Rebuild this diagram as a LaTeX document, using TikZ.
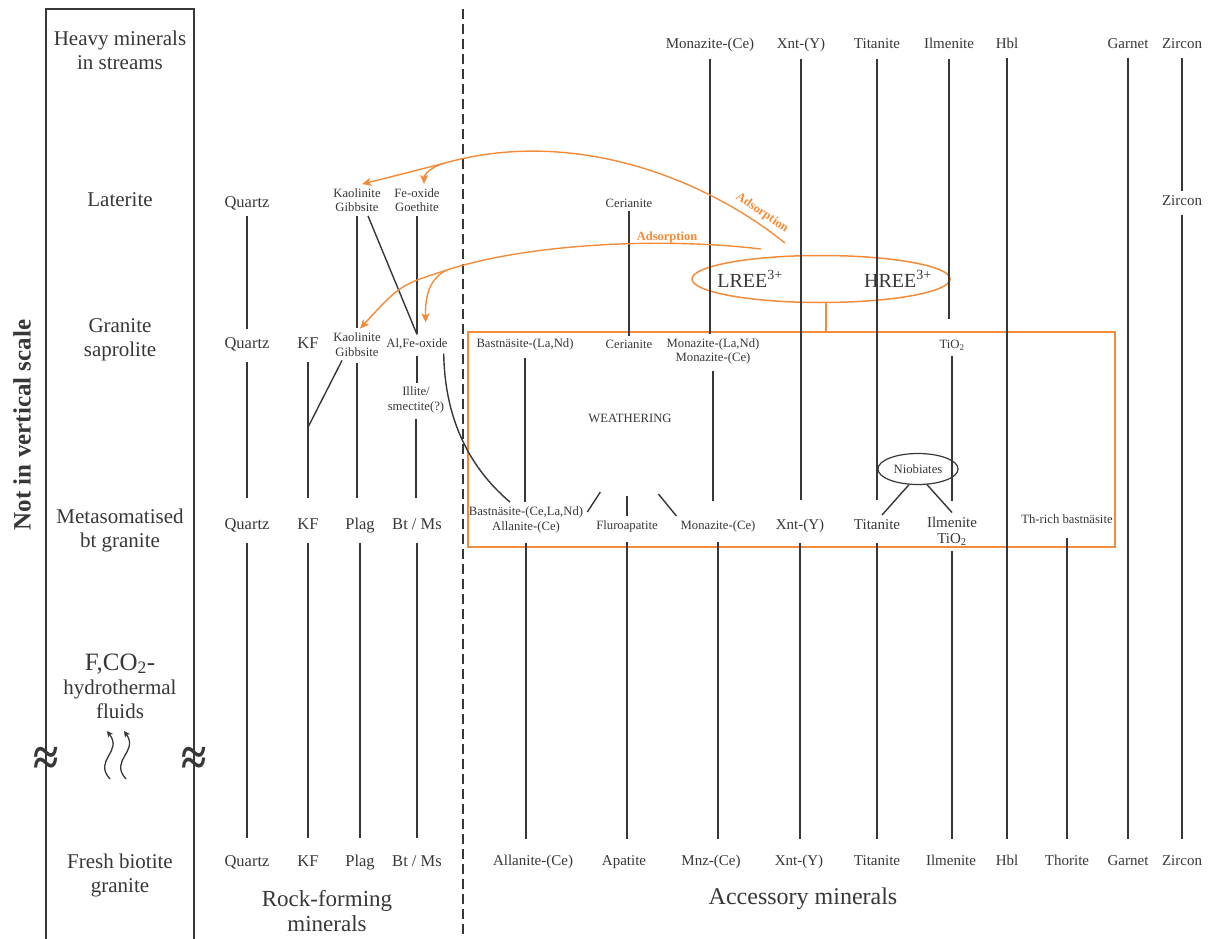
\documentclass[tikz,border=0pt]{standalone}
\usepackage{fontspec}
\setmainfont{Liberation Serif}
\usetikzlibrary{shapes.geometric,arrows.meta,calc}
\definecolor{ink}{RGB}{55,55,55}
\definecolor{rorange}{RGB}{243,139,56}

\begin{document}
\begin{tikzpicture}[x=1pt, y=-1pt,
    headtxt/.style={align=center, text=ink, font=\fontsize{21}{24}\selectfont},
    rocktxt/.style={text=ink, font=\fontsize{16.5}{19}\selectfont, text height=11.5pt, text depth=3.3pt, inner sep=4pt},
    acctxt/.style={text=ink, font=\fontsize{15}{17}\selectfont, text height=10.5pt, text depth=3pt, inner sep=4pt},
    acctwo/.style={align=center, text=ink, font=\fontsize{15}{16}\selectfont, inner sep=4pt},
    smalltxt/.style={align=center, text=ink, font=\fontsize{12.7}{14.5}\selectfont, inner sep=4pt},
    colline/.style={draw=ink, line width=1.4pt},
    frameline/.style={draw=ink, line width=1.3pt},
    dashline/.style={draw=ink, line width=1.2pt, dash pattern=on 10pt off 5pt},
    brk/.style={text=ink, font=\fontsize{46}{46}\selectfont\bfseries, inner sep=0pt},
    fluidarrow/.style={draw=ink, line width=1.3pt, -{Stealth[length=6pt,width=6pt,inset=1.5pt]}},
    orangeline/.style={draw=rorange, line width=1.5pt},
    adsarrow/.style={draw=rorange, line width=1.4pt, -{Stealth[length=9pt,width=8pt,inset=2pt]}},
    adstxt/.style={text=rorange, font=\fontsize{12.5}{14}\selectfont\bfseries, inner sep=1pt}]

    \useasboundingbox (0,0) rectangle (1213,939);

    % Frame of the stage column and divider
    \draw[frameline] (46,939) -- (46,9) -- (194,9) -- (194,939);
    \draw[dashline] (463,9) -- (463,939);
    \node[brk] (brkL) at (46,761) {\scalebox{1}[1.15]{≈}};
    \node[brk] (brkR) at (194,761) {\scalebox{1}[1.15]{≈}};
    \node[rotate=90, text=ink, font=\fontsize{25}{25}\selectfont\bfseries] (nivs) at (22,425) {Not in vertical scale};

    % Stages
    \node[headtxt] (hHeavy) at (120,50) {Heavy minerals\\in streams};
    \node[headtxt] (hLat) at (120,200) {Laterite};
    \node[headtxt] (hSap) at (120,340) {Granite\\saprolite};
    \node[headtxt] (hMeta) at (120,530) {Metasomatised\\bt granite};
    \node[headtxt] (hFluid) at (120,686) {{\fontsize{25}{25}\selectfont F,CO\textsubscript{2}-}\\hydrothermal\\fluids};
    \node[headtxt] (hFresh) at (120,875) {Fresh biotite\\granite};
    \draw[fluidarrow] (110,779) .. controls (93,760) and (123,752) .. (107,731);
    \draw[fluidarrow] (126,779) .. controls (109,760) and (139,752) .. (124,731);

    % Rock-forming minerals
    \node[rocktxt] (qzL) at (247,203) {Quartz};
    \node[rocktxt] (qzS) at (247,344) {Quartz};
    \node[rocktxt] (qzM) at (247,525) {Quartz};
    \node[rocktxt] (qzF) at (247,862) {Quartz};
    \node[rocktxt] (kfS) at (308,344) {KF};
    \node[rocktxt] (kfM) at (308,525) {KF};
    \node[rocktxt] (kfF) at (308,862) {KF};
    \node[rocktxt] (plagM) at (360,525) {Plag};
    \node[rocktxt] (plagF) at (360,862) {Plag};
    \node[rocktxt] (btM) at (417,525) {Bt / Ms};
    \node[rocktxt] (btF) at (417,862) {Bt / Ms};
    \node[smalltxt] (kaolL) at (357,200) {Kaolinite\\Gibbsite};
    \node[smalltxt] (feoxL) at (417,200) {Fe-oxide\\Goethite};
    \node[smalltxt] (kaolS) at (357,344.5) {Kaolinite\\Gibbsite};
    \node[smalltxt] (alfe) at (417,344) {Al,Fe-oxide};
    \node[smalltxt] (illite) at (416,400) {Illite/\\smectite(?)};

    % Accessory minerals, top row
    \node[acctxt] (mzT) at (710,45) {Monazite-(Ce)};
    \node[acctxt] (xntT) at (801,45) {Xnt-(Y)};
    \node[acctxt] (titT) at (877,45) {Titanite};
    \node[acctxt] (ilmT) at (949,45) {Ilmenite};
    \node[acctxt] (hblT) at (1007,45) {Hbl};
    \node[acctxt] (grtT) at (1128,45) {Garnet};
    \node[acctxt] (zrnT) at (1182,45) {Zircon};

    % Laterite and saprolite
    \node[smalltxt] (ceriL) at (629,203) {Cerianite};
    \node[acctxt] (zrnL) at (1182,202) {Zircon};
    \node[smalltxt] (bastLa) at (525,344) {Bastnäsite-(La,Nd)};
    \node[smalltxt] (ceriS) at (629,344) {Cerianite};
    \node[smalltxt] (mzS) at (713,351.5) {Monazite-(La,Nd)\\Monazite-(Ce)};
    \node[smalltxt] (tio2S) at (952,345) {TiO\textsubscript{2}};
    \node[smalltxt] (weath) at (630,418) {WEATHERING};

    % Metasomatised granite
    \node[smalltxt] (bastce) at (526,512) {Bastnäsite-(Ce,La,Nd)};
    \node[smalltxt] (allM) at (526,527) {Allanite-(Ce)};
    \node[smalltxt] (fap) at (627,526) {Fluroapatite};
    \node[smalltxt] (mzM) at (718,526) {Monazite-(Ce)};
    \node[acctxt] (xntM) at (800,526) {Xnt-(Y)};
    \node[acctxt] (titM) at (877,526) {Titanite};
    \node[acctwo] (ilmM) at (952,531) {Ilmenite\\TiO\textsubscript{2}};
    \node[smalltxt] (thb) at (1067,519) {Th-rich bastnäsite};
    \node[ellipse, draw=ink, line width=1.2pt, minimum width=75pt, minimum height=31pt, inner sep=0pt, smalltxt] (nb) at (918,469) {Niobiates};

    % Fresh granite
    \node[acctxt] (allF) at (533,862) {Allanite-(Ce)};
    \node[acctxt] (apF) at (624,862) {Apatite};
    \node[acctxt] (mnzF) at (711,862) {Mnz-(Ce)};
    \node[acctxt] (xntF) at (799,862) {Xnt-(Y)};
    \node[acctxt] (titF) at (877,862) {Titanite};
    \node[acctxt] (ilmF) at (951,862) {Ilmenite};
    \node[acctxt] (hblF) at (1007,862) {Hbl};
    \node[acctxt] (thoF) at (1067,862) {Thorite};
    \node[acctxt] (grtF) at (1128,862) {Garnet};
    \node[acctxt] (zrnF) at (1182,862) {Zircon};

    % Group labels
    \node[headtxt, font=\fontsize{23}{25}\selectfont] (rockH) at (327,911) {Rock-forming\\minerals};
    \node[headtxt, font=\fontsize{24}{26}\selectfont] (accH) at (803,899) {Accessory minerals};

    % REE and weathering box
    \node[draw=rorange, line width=1.5pt, minimum width=647pt, minimum height=215pt] (wbox) at (791.5,439.5) {};
    \node[ellipse, draw=rorange, line width=1.5pt, minimum width=258pt, minimum height=47pt, inner sep=0pt] (ree) at (821,279) {};
    \node[text=ink, font=\fontsize{20}{22}\selectfont] (lree) at (750,279) {LREE\textsuperscript{3+}};
    \node[text=ink, font=\fontsize{20}{22}\selectfont] (hree) at (898,279) {HREE\textsuperscript{3+}};
    \draw[orangeline] ([xshift=5pt]ree.south) -- ++(0,30);

    % Rock-forming lines
    \draw[colline, shorten <=1pt, shorten >=3pt] (qzL.south) -- (qzL.south |- qzS.north);
    \draw[colline, shorten <=6pt, shorten >=15pt] (qzS.south) -- (qzS.south |- qzM.north);
    \draw[colline, shorten <=6pt, shorten >=12pt] (qzM.south) -- (qzM.south |- qzF.north);
    \draw[colline, shorten <=6pt, shorten >=15pt] (kfS.south) -- (kfS.south |- kfM.north);
    \draw[colline, shorten <=6pt, shorten >=12pt] (kfM.south) -- (kfM.south |- kfF.north);
    \draw[colline] ($(kfS)!0.46!(kfM)$) -- ([xshift=-15pt]kaolS.south);
    \draw[colline, shorten >=1pt] (kaolL.south) -- (kaolL.south |- kaolS.north);
    \draw[colline, shorten <=3pt, shorten >=15pt] (kaolS.south) -- (kaolS.south |- plagM.north);
    \draw[colline, shorten <=6pt, shorten >=12pt] (plagM.south) -- (plagM.south |- plagF.north);
    \draw[colline] ([xshift=11pt]kaolL.south) -- (alfe.north);
    \draw[colline] (feoxL.south) -- (feoxL.south |- alfe.north);
    \draw[colline, shorten <=2pt] (alfe.south) -- (alfe.south |- illite.north);
    \draw[colline, shorten <=2pt, shorten >=15pt] (illite.south) -- (illite.south |- btM.north);
    \draw[colline, shorten <=6pt, shorten >=12pt] (btM.south) -- (btM.south |- btF.north);
    \draw[colline] ([xshift=-8pt]alfe.south east) .. controls (445,430) and (478,475) .. ([xshift=-16pt]bastce.north);

    % Accessory lines
    \draw[colline, shorten <=4pt] (bastLa.south) -- (bastLa.south |- bastce.north);
    \draw[colline, shorten <=6pt, shorten >=12pt] (allM.south) -- (allM.south |- allF.north);
    \draw[colline] (ceriL.south) -- (ceriL.south |- ceriS.north);
    \draw[colline] (bastce.east) -- ++(13,-20);
    \draw[colline] (fap.north) -- ++(0,-20);
    \draw[colline] (mzM.north west) -- ++(-18,-22);
    \draw[colline, shorten <=6pt, shorten >=12pt] (fap.south) -- (fap.south |- apF.north);
    \draw[colline, shorten <=3pt] (mzT.south) -- (mzT.south |- mzS.north);
    \draw[colline, shorten <=2pt, shorten >=15pt] (mzS.south) -- (mzS.south |- mzM.north);
    \draw[colline, shorten <=6pt, shorten >=12pt] (mzM.south) -- (mzM.south |- mnzF.north);
    \draw[colline, shorten <=3pt, shorten >=15pt] (xntT.south) -- (xntT.south |- xntM.north);
    \draw[colline, shorten <=6pt, shorten >=12pt] (xntM.south) -- (xntM.south |- xntF.north);
    \draw[colline, shorten <=3pt, shorten >=15pt] (titT.south) -- (titT.south |- titM.north);
    \draw[colline, shorten <=6pt, shorten >=12pt] (titM.south) -- (titM.south |- titF.north);
    \draw[colline] (nb.240) -- ([xshift=5pt]titM.north);
    \draw[colline] (nb.300) -- (ilmM.north);
    \draw[colline, shorten <=3pt, shorten >=17pt] (ilmT.south) -- (ilmT.south |- tio2S.north);
    \draw[colline, shorten <=2pt, shorten >=12pt] (tio2S.south) -- (tio2S.south |- ilmM.north);
    \draw[colline, shorten <=2pt, shorten >=12pt] (ilmM.south) -- (ilmM.south |- ilmF.north);
    \draw[colline, shorten <=2pt, shorten >=12pt] (hblT.south) -- (hblT.south |- hblF.north);
    \draw[colline, shorten <=10pt, shorten >=12pt] (thb.south) -- (thb.south |- thoF.north);
    \draw[colline, shorten <=2pt, shorten >=12pt] (grtT.south) -- (grtT.south |- grtF.north);
    \draw[colline, shorten <=2pt] (zrnT.south) -- (zrnT.south |- zrnL.north);
    \draw[colline, shorten <=2pt, shorten >=12pt] (zrnL.south) -- (zrnL.south |- zrnF.north);

    % Adsorption
    \coordinate (ads1) at (785,243);
    \coordinate (ads2) at (761,249);
    \draw[adsarrow] (ads1) .. controls (700,175) and (570,128) .. (445,163) coordinate (br1) .. controls (410,172) .. ([xshift=5pt]kaolL.north);
    \draw[adsarrow] (br1) .. controls (428,168) and (424,176) .. ([xshift=7pt]feoxL.north);
    \draw[adsarrow] (ads2) .. controls (650,236) and (520,246) .. (447,270) coordinate (br2) .. controls (400,285) .. ([xshift=3pt]kaolS.north);
    \draw[adsarrow, shorten >=12pt] (br2) .. controls (430,278) and (425,295) .. ([xshift=9pt]alfe.north);
    \node[adstxt] (adsA) at (667,237) {Adsorption};
    \node[adstxt, rotate=-34] (adsB) at (762,213) {Adsorption};

\end{tikzpicture}
\end{document}
